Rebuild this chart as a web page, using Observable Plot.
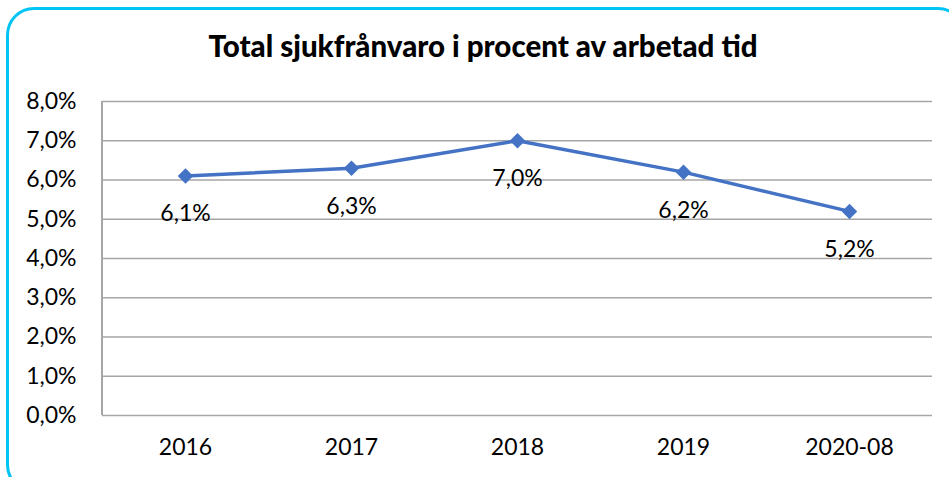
<!DOCTYPE html>
<html>
<head>
<meta charset="utf-8">
<script src="https://cdn.jsdelivr.net/npm/d3@7"></script>
<script src="https://cdn.jsdelivr.net/npm/@observablehq/plot@0.6"></script>
<style>
  html, body { margin: 0; padding: 0; width: 949px; height: 477px; overflow: hidden; background: #fff; }
  #wrap { position: relative; width: 949px; height: 477px; overflow: hidden; font-family: Lato, "Liberation Sans", sans-serif; }
  #frame { position: absolute; left: 6px; top: 7px; width: 960px; height: 486px; border: 3px solid #00c4f4; border-radius: 28px; box-sizing: border-box; }
  #title { position: absolute; left: 0; top: 28px; width: 966px; text-align: center; font-weight: 900; font-size: 29.5px; line-height: 36px; color: #000; }
  #chart { position: absolute; left: 0; top: 0; }
</style>
</head>
<body>
<div id="wrap">
  <div id="frame"></div>
  <div id="chart"></div>
  <div id="title">Total sjukfrånvaro i procent av arbetad tid</div>
</div>
<script>
const years = ["2016", "2017", "2018", "2019", "2020-08"];
const values = [6.1, 6.3, 7.0, 6.2, 5.2];
const yTicks = [0, 1, 2, 3, 4, 5, 6, 7, 8];

const data = years.map((year, i) => ({year, value: values[i]}));
const fmt = v => v.toFixed(1).replace(".", ",") + "%";

// left axis line along the plot's left edge
const leftAxisLine = (index, scales, values, dims) => {
  const svg = d3.create("svg:line")
    .attr("x1", dims.marginLeft).attr("x2", dims.marginLeft)
    .attr("y1", scales.y(8)).attr("y2", scales.y(0))
    .attr("stroke", "#a6a6a6").attr("stroke-width", 2);
  return svg.node();
};

const chart = Plot.plot({
  width: 949,
  height: 477,
  marginLeft: 102,
  marginRight: 17,
  marginTop: 101,
  marginBottom: 62,
  style: { fontFamily: "Lato, 'Liberation Sans', sans-serif", fontSize: "23px", color: "#000", background: "transparent" },
  x: { type: "point", domain: years, padding: 0.5, label: null },
  y: { domain: [0, 8], label: null },
  marks: [
    Plot.ruleY(yTicks, { stroke: "#a6a6a6", strokeWidth: 1.5, strokeOpacity: 1 }),
    leftAxisLine,
    Plot.axisY(yTicks, { tickSize: 0, tickPadding: 26, tickFormat: fmt, fontSize: 23, fill: "#000" }),
    Plot.axisX({ tickSize: 0, tickPadding: 23, fontSize: 23, fill: "#000" }),
    Plot.line(data, { x: "year", y: "value", stroke: "#4472c4", strokeWidth: 3.5 }),
    Plot.dot(data, { x: "year", y: "value", symbol: "diamond2", r: 7, fill: "#4472c4", stroke: "none" }),
    Plot.text(data, { x: "year", y: "value", text: d => fmt(d.value), dy: 38, fontSize: 23, fill: "#000" })
  ]
});
document.getElementById("chart").appendChild(chart);
</script>
</body>
</html>
